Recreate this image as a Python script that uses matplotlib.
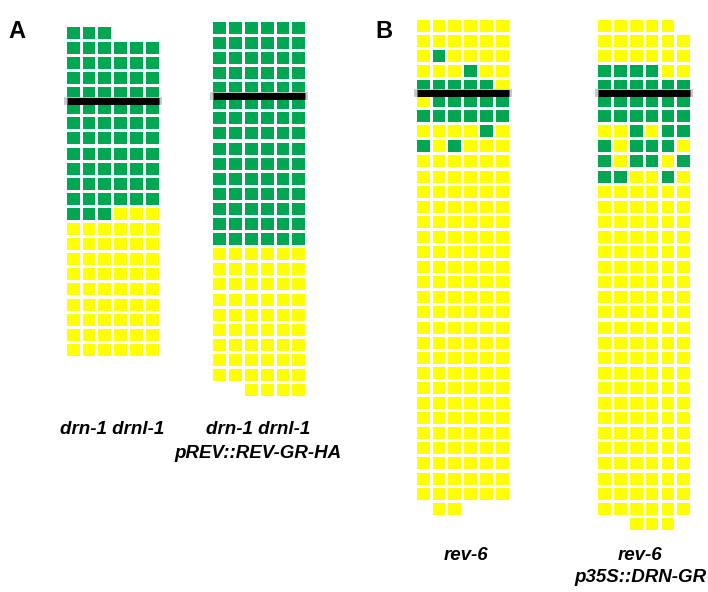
import matplotlib
matplotlib.use("Agg")
import matplotlib.pyplot as plt
from matplotlib.patches import Rectangle

# ---- data: cell states per row (G = green, Y = yellow, . = empty) ----
grid_A1 = (["GGG..."] + ["GGGGGG"] * 11 + ["GGGYYY"] + ["YYYYYY"] * 9)
grid_A2 = (["GGGGGG"] * 15 + ["YYYYYY"] * 9 + ["..YYYY"])
grid_B1 = (["YYYYYY", "YYYYYY", "YGYYYY", "YYYGYY", "GGGGGY",
            "YGGGGG", "GGGGGG", "YYYYGY", "GYGYYY"] + ["YYYYYY"] * 23 + [".YY..."])
grid_B2 = (["YYYYY.", "YYYYYY", "YYYYYY", "GGGGYY", "GGGGGG",
            "GGGGGG", "GGGGGG", "YYGYGG", "GYGGGY", "GYGGYG", "GGYYGY"]
           + ["YYYYYY"] * 22 + ["..YYY."])
line_after_row = [5, 5, 5, 5]
labels = ["drn-1 drnl-1", "drn-1 drnl-1\npREV::REV-GR-HA",
          "rev-6", "rev-6\np35S::DRN-GR"]
panel_letters = ["A", "B"]

# ---- layout / style ----
colors = {"G": "#00A651", "Y": "#FFFF00"}
PX, PY = 15.8, 15.1     # pitch
CW, CH = 12.8, 12.0     # cell size
origins = [(66.7, 26.7), (213.3, 21.7), (416.7, 19.5), (598.3, 19.5)]
label_pos = [(112, 430), (258, 430), (466, 555), (640, 555)]
LINE_GAP = 23

fig = plt.figure(figsize=(7.08, 5.92), dpi=100)
ax = fig.add_axes([0, 0, 1, 1])
ax.set_xlim(0, 708)
ax.set_ylim(592, 0)
ax.axis("off")

grids = [grid_A1, grid_A2, grid_B1, grid_B2]
for g, (x0, y0), lr in zip(grids, origins, line_after_row):
    for r, row in enumerate(g):
        for c, ch in enumerate(row):
            if ch == ".":
                continue
            ax.add_patch(Rectangle((x0 + c * PX, y0 + r * PY), CW, CH,
                                   facecolor=colors[ch], edgecolor="none"))
    ncol = max(len(row) for row in g)
    x1 = x0 + (ncol - 1) * PX + CW
    yl = y0 + lr * PY - (PY - CH) / 2
    ax.plot([x0 - 3, x1 + 3], [yl, yl], color="#c8c8c8", lw=5.5,
            solid_capstyle="butt", zorder=3)
    ax.plot([x0, x1], [yl, yl], color="black", lw=5.0,
            solid_capstyle="butt", zorder=4)

for txt, (x, y) in zip(labels, label_pos):
    for i, part in enumerate(txt.split("\n")):
        ax.text(x, y + i * LINE_GAP, part, ha="center", va="center",
                fontsize=13.5, fontweight="bold", fontstyle="italic",
                family="Liberation Sans")

ax.text(8, 31, panel_letters[0], fontsize=17, fontweight="bold",
        family="Liberation Sans", va="center", ha="left")
ax.text(375, 31, panel_letters[1], fontsize=17, fontweight="bold",
        family="Liberation Sans", va="center", ha="left")

fig.savefig("out.png", dpi=100)
